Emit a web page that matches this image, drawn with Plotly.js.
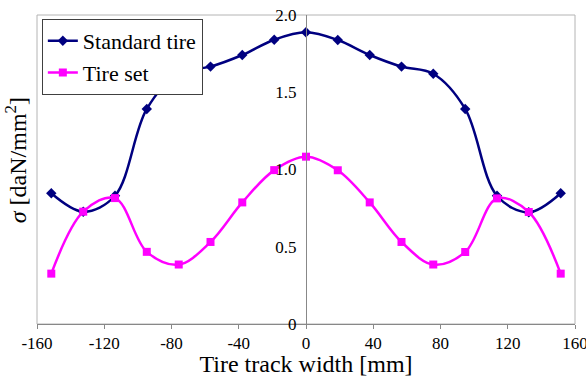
<!DOCTYPE html>
<html><head><meta charset="utf-8">
<script src="https://cdn.plot.ly/plotly-3.0.1.min.js"></script>
<style>html,body{margin:0;padding:0;background:#fff}#chart{width:586px;height:377px}
#chart svg text, #chart svg tspan{font-family:'Liberation Serif','Times New Roman','DejaVu Serif',Tinos,serif !important}</style>
</head><body><div id="chart"></div>
<script>
const trackWidth = [-151.5,-132.5,-113.6,-94.7,-75.7,-56.8,-37.9,-18.9,0,18.9,37.9,56.8,75.7,94.7,113.6,132.5,151.5];
const standardTire = [0.846,0.727,0.83,1.392,1.623,1.666,1.741,1.840,1.888,1.838,1.741,1.666,1.620,1.392,0.83,0.723,0.846];
const tireSet = [0.326,0.727,0.815,0.467,0.385,0.531,0.787,0.996,1.083,0.995,0.787,0.531,0.385,0.466,0.813,0.725,0.326];
const seriesNames = ['Standard tire','Tire set'];
const xTickVals = [-160,-120,-80,-40,0,40,80,120,160];
const xTickText = ['-160','-120','-80','-40','0','40','80','120','160'];
const yTickVals = [0,0.5,1,1.5,2];
const yTickText = ['0','0.5','1.0','1.5','2.0'];

const FAM = 'Times New Roman';
const traces = [
  {x: trackWidth, y: standardTire, name: seriesNames[0], type: 'scatter', mode: 'lines+markers',
   line: {color: '#000080', width: 2.5, shape: 'spline', smoothing: 1},
   marker: {symbol: 'diamond', size: 8, color: '#000080'}},
  {x: trackWidth, y: tireSet, name: seriesNames[1], type: 'scatter', mode: 'lines+markers',
   line: {color: '#FF00FF', width: 2.5, shape: 'spline', smoothing: 1},
   marker: {symbol: 'square', size: 8, color: '#FF00FF'}}
];
const layout = {
  width: 586, height: 377,
  margin: {l: 37, r: 11, t: 15, b: 53},
  paper_bgcolor: '#fff', plot_bgcolor: '#fff',
  font: {family: FAM},
  showlegend: true,
  legend: {x: 0.009, y: 0.987, xanchor: 'left', yanchor: 'top', bgcolor: '#fff',
           bordercolor: '#404040', borderwidth: 1, font: {family: FAM, size: 22, color: '#000'},
           tracegroupgap: 0},
  xaxis: {range: [-160, 160], tickvals: xTickVals, ticktext: xTickText, showgrid: false, zeroline: false,
          showline: true, linecolor: '#888', linewidth: 1, ticks: 'outside', ticklen: 4, tickcolor: '#888',
          ticklabeloverflow: 'allow', automargin: false,
          tickfont: {family: FAM, size: 17, color: '#000'},
          title: {text: 'Tire track width [mm]', font: {family: FAM, size: 24, color: '#000'}}},
  yaxis: {range: [0, 2], tickvals: yTickVals, ticktext: yTickText, showgrid: false, zeroline: false,
          anchor: 'free', position: 0.5, showline: true, linecolor: '#888', linewidth: 1,
          ticks: '', ticklabelstandoff: 6, automargin: false,
          tickfont: {family: FAM, size: 17, color: '#000'}},
  shapes: [{type: 'rect', xref: 'paper', yref: 'paper', x0: 0, x1: 1, y0: 0, y1: 1,
            line: {color: '#b4b4b4', width: 1}, layer: 'below'}],
  annotations: [{xref: 'paper', yref: 'paper', x: 0, y: 0.53, xanchor: 'right', yanchor: 'middle',
                 xshift: -4, textangle: -90, showarrow: false,
                 text: '<i>σ</i> [daN/mm<sup>2</sup>]', font: {family: FAM, size: 24, color: '#000'}}]
};
Plotly.newPlot('chart', traces, layout, {displayModeBar: false});
</script></body></html>
